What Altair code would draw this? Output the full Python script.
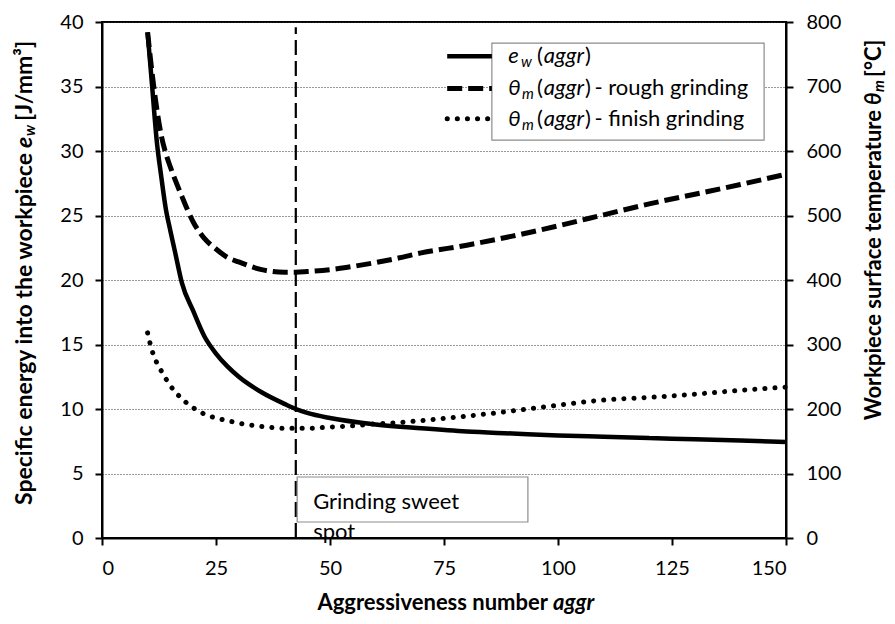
import altair as alt
import pandas as pd

# ---------------- data ----------------
aggr_ew = [10, 11, 12, 13, 14, 15, 16, 17.5, 20, 22.5, 25, 27.5, 30, 35, 40, 42.5, 45, 50,
           60, 70, 80, 90, 100, 110, 120, 130, 140, 150]
ew_vals = [39.2, 35.0, 30.8, 28.0, 25.5, 23.8, 22.2, 19.8, 17.6, 15.6, 14.3, 13.3, 12.5, 11.3,
           10.4, 10.0, 9.7, 9.3, 8.8, 8.5, 8.25, 8.1, 7.95, 7.85, 7.75, 7.65, 7.55, 7.45]

aggr_t = [10, 11, 12, 13, 14, 15, 17.5, 20, 22.5, 25, 27.5, 30, 35, 40, 42.5, 45, 50, 55, 60,
          65, 70, 80, 90, 100, 110, 120, 130, 140, 150]
rough_vals = [784, 720, 666, 624, 596, 575, 530, 490, 464, 448, 435, 428, 416, 412, 412, 413,
              416, 421, 427, 434, 442, 454, 468, 484, 501, 518, 533, 548, 564]
finish_vals = [318, 290, 272, 259, 247, 236, 216, 202, 192, 186, 182, 178, 173, 170, 170, 170,
               172, 174, 177, 179, 182, 189, 197, 206, 214, 218, 223, 229, 234]

sweet_spot = 42.5
x_ticks = [0, 25, 50, 75, 100, 125, 150]
y_left_ticks = [0, 5, 10, 15, 20, 25, 30, 35, 40]
y_right_ticks = [0, 100, 200, 300, 400, 500, 600, 700, 800]

FONT = "Lato"
LFS = 20   # tick labels
FS = 22    # texts
TFS = 23   # left axis title

# ---------------- shared encodings ----------------
x_axis = alt.Axis(values=x_ticks, labelFont=FONT, labelFontSize=LFS, labelColor="black",
                  tickColor="black", tickSize=7, tickWidth=2, domainColor="black",
                  domainWidth=2, grid=False, labelPadding=13, title="")
yl_axis = alt.Axis(values=y_left_ticks, orient="left", labelFont=FONT, labelFontSize=LFS,
                   labelColor="black", tickColor="black", tickSize=7, tickWidth=2,
                   domainColor="black", domainWidth=2, grid=True, gridColor="#333333",
                   gridDash=[1, 2], gridWidth=1, labelPadding=12, title="")
yr_axis = alt.Axis(values=y_right_ticks, orient="right", labelFont=FONT, labelFontSize=LFS,
                   labelColor="black", tickColor="black", tickSize=7, tickWidth=2,
                   domainColor="black", domainWidth=2, grid=False, labelPadding=13, title="")

X = alt.X("aggr:Q", scale=alt.Scale(domain=[0, 150], nice=False), axis=x_axis)
YL = alt.Y("v:Q", scale=alt.Scale(domain=[0, 40], nice=False), axis=yl_axis)
YR = alt.Y("temp:Q", scale=alt.Scale(domain=[0, 800], nice=False), axis=yr_axis)

# ---------------- left-axis layer ----------------
df_ew = pd.DataFrame({"aggr": aggr_ew, "v": ew_vals})
ew_line = alt.Chart(df_ew).mark_line(color="black", strokeWidth=4.5,
                                     interpolate="monotone").encode(x=X, y=YL)

df_rule = pd.DataFrame({"aggr": [sweet_spot], "v": [0.0], "v2": [39.6]})
sweet_rule = alt.Chart(df_rule).mark_rule(color="black", strokeWidth=2.2,
                                          strokeDash=[15, 6]).encode(x=X, y=YL, y2="v2:Q")

df_abox = pd.DataFrame({"aggr": [42.8], "aggr2": [93.4], "v": [1.24], "v2": [4.73]})
ann_box = alt.Chart(df_abox).mark_rect(fill="white", stroke="#8c8c8c", strokeWidth=1.2).encode(
    x=X, x2="aggr2:Q", y=YL, y2="v2:Q")

df_atext = pd.DataFrame({"aggr": [46.3, 46.3], "v": [2.8, 0.5], "t": ["Grinding sweet", "spot"]})
ann_text = alt.Chart(df_atext).mark_text(font=FONT, fontSize=FS, align="left", baseline="middle",
                                         color="black").encode(x=X, y=YL, text="t:N")

# legend
df_lbox = pd.DataFrame({"aggr": [85.5], "aggr2": [145.2], "v": [30.85], "v2": [38.37]})
leg_box = alt.Chart(df_lbox).mark_rect(fill="white", stroke="#8c8c8c", strokeWidth=1.2).encode(
    x=X, x2="aggr2:Q", y=YL, y2="v2:Q")

leg_rows = [37.35, 34.85, 32.5]
sym_x0, sym_x1 = 75.7, 85.5


def leg_sym(row, **kw):
    d = pd.DataFrame({"aggr": [sym_x0], "aggr2": [sym_x1], "v": [leg_rows[row]]})
    return alt.Chart(d).mark_rule(color="black", **kw).encode(x=X, x2="aggr2:Q", y=YL)


sym1 = leg_sym(0, strokeWidth=4.5)
sym2 = leg_sym(1, strokeWidth=5, strokeDash=[15, 6])
sym3 = leg_sym(2, strokeWidth=5, strokeDash=[0.1, 10], strokeCap="round")

leg_main = pd.DataFrame({"aggr": [89.1, 89.1, 89.1], "v": leg_rows, "t": ["e", "θ", "θ"]})
leg_sub = pd.DataFrame({"aggr": [91.9, 92.1, 92.1], "v": leg_rows, "t": ["w", "m", "m"]})
leg_par = pd.DataFrame({"aggr": [95.4] * 3 + [105.9] * 3, "v": leg_rows * 2,
                        "t": ["("] * 3 + [")"] * 3})
leg_aggr = pd.DataFrame({"aggr": [96.9] * 3, "v": leg_rows, "t": ["aggr"] * 3})
leg_rest = pd.DataFrame({"aggr": [108.0, 108.0], "v": leg_rows[1:],
                         "t": ["- rough grinding", "- finish grinding"]})


def txt(df, size=FS, style="normal", weight="normal", dy=0):
    return alt.Chart(df).mark_text(font=FONT, fontSize=size, fontStyle=style, fontWeight=weight,
                                   align="left", baseline="middle", color="black", dy=dy).encode(
        x=X, y=YL, text="t:N")


leg_texts = [txt(leg_main, style="italic"), txt(leg_sub, size=15, style="italic", dy=6),
             txt(leg_par), txt(leg_aggr, style="italic"), txt(leg_rest)]

# axis titles built from pieces (pixel positions relative to plot area)


def ptxt(t, x, y, size=FS, style="normal", weight="bold", angle=0, align="left"):
    return alt.Chart(pd.DataFrame({"t": [t]})).mark_text(
        font=FONT, fontSize=size, fontStyle=style, fontWeight=weight, align=align,
        baseline="middle", color="black", angle=angle).encode(
        x=alt.value(x), y=alt.value(y), text="t:N")


left_title = [
    ptxt("Specific energy into the workpiece", -77, 131, size=TFS, angle=270, align="right"),
    ptxt("e", -77, 126, size=TFS, style="italic", angle=270),
    ptxt("w", -72, 114, size=15, style="italic", angle=270),
    ptxt("[J/mm³]", -77, 99, size=TFS, angle=270),
]
right_title = [
    ptxt("Workpiece surface temperature", 772, 88, angle=270, align="right"),
    ptxt("θ", 772, 83, style="italic", angle=270),
    ptxt("m", 777, 70, size=15, style="italic", angle=270),
    ptxt("[°C]", 772, 55, angle=270),
]
bottom_title = [
    ptxt("Aggressiveness number", 446, 581, align="right"),
    ptxt("aggr", 451, 581, style="italic"),
]

left = alt.layer(ew_line, sweet_rule, ann_box, ann_text, leg_box, sym1, sym2, sym3,
                 *leg_texts, *left_title, *right_title, *bottom_title)

# ---------------- right-axis layer ----------------
df_rough = pd.DataFrame({"aggr": aggr_t, "temp": rough_vals})
df_finish = pd.DataFrame({"aggr": aggr_t, "temp": finish_vals})
rough_line = alt.Chart(df_rough).mark_line(color="black", strokeWidth=5, strokeDash=[15, 6],
                                           interpolate="monotone").encode(x=X, y=YR)
finish_line = alt.Chart(df_finish).mark_line(color="black", strokeWidth=5, strokeDash=[0.1, 10],
                                             strokeCap="round",
                                             interpolate="monotone").encode(x=X, y=YR)
right = alt.layer(rough_line, finish_line)

chart = alt.layer(left, right).resolve_scale(y="independent").properties(
    width=684, height=516,
    autosize=alt.AutoSizeParams(type="none"),
    padding={"left": 94, "top": 14, "right": 101, "bottom": 78},
    background="white",
).configure_view(stroke="black", strokeWidth=2)

chart.save("out.html", embed_options={"renderer": "svg", "actions": False})
